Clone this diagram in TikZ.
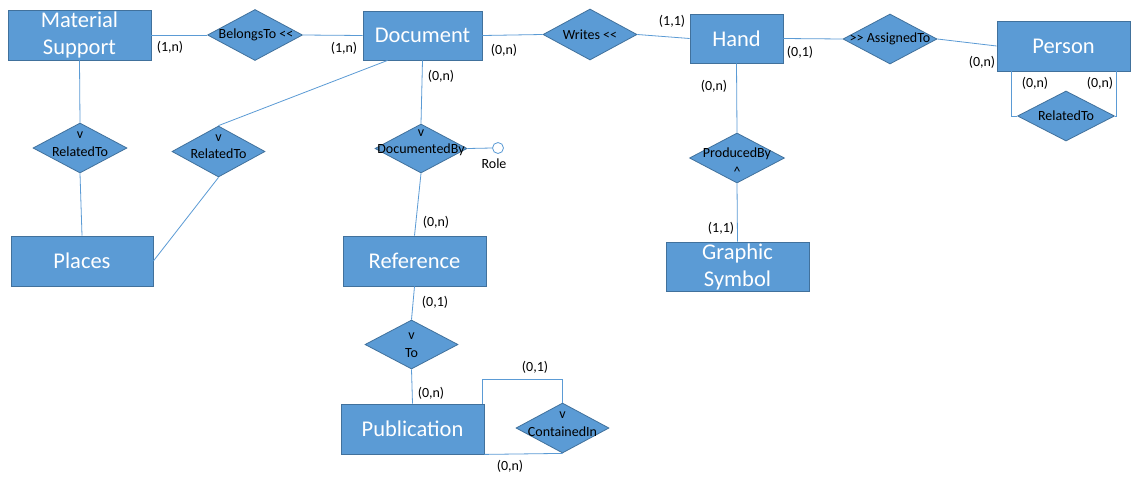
\documentclass[tikz,border=0pt]{standalone}
\usepackage{fontspec}
\newfontfamily\carl{Carlito}
\usetikzlibrary{shapes.geometric}
\definecolor{boxblue}{HTML}{5B9BD5}
\definecolor{boxedge}{HTML}{41719C}
\definecolor{linkblue}{HTML}{5B9BD5}
\begin{document}
\begin{tikzpicture}[x=1pt,y=-1pt,
  entity/.style 2 args={rectangle,draw=boxedge,fill=boxblue,line width=0.8pt,inner sep=0pt,
    minimum width=#1,minimum height=#2,text=white,align=center,
    font=\carl\fontsize{22.5}{27}\selectfont},
  rel/.style 2 args={diamond,draw=boxedge,fill=boxblue,line width=0.8pt,inner sep=0pt,
    minimum width=#1,minimum height=#2},
  reltext/.style={font=\carl\fontsize{14}{16}\selectfont,inner sep=0pt,text=black},
  card/.style={font=\carl\fontsize{14}{16}\selectfont,inner sep=0pt,text=black},
  link/.style={draw=linkblue,line width=0.8pt}]
\useasboundingbox[fill=white] (0,0) rectangle (1137,477);

% entities
\node[entity={143pt}{50pt}] (ms) at (79.5,35) {Material\\Support};
\node[entity={119pt}{49pt}] (doc) at (422.5,35.5) {Document};
\node[entity={93pt}{49pt}] (hand) at (736.5,38.5) {Hand};
\node[entity={133pt}{50pt}] (person) at (1063.5,46) {Person};
\node[entity={142pt}{50pt}] (places) at (82,261) {Places};
\node[entity={143pt}{50pt}] (ref) at (414.5,261) {Reference};
\node[entity={143pt}{49pt}] (gs) at (737.5,266.5) {Graphic\\Symbol};
\node[entity={143pt}{50pt}] (pub) at (412.5,429) {Publication};

% relationships
\node[rel={95pt}{51pt}] (bel) at (255,35) {};
\node[rel={94pt}{51pt}] (wri) at (590,34.5) {};
\node[rel={94pt}{50pt}] (asg) at (890,39) {};
\node[rel={97pt}{50pt}] (rel3) at (1066,116) {};
\node[rel={95pt}{50pt}] (prod) at (737,158) {};
\node[rel={92pt}{49pt}] (docby) at (421,148.5) {};
\node[rel={94pt}{50pt}] (rel1) at (80,148) {};
\node[rel={93pt}{51pt}] (rel2) at (218.5,151.5) {};
\node[rel={93pt}{49pt}] (to) at (411.5,344.5) {};
\node[rel={93pt}{50pt}] (cont) at (562.5,428) {};
\node[circle,draw=linkblue,fill=white,line width=0.8pt,minimum size=11pt,inner sep=0pt] (role) at (498,148) {};

% relationship texts
\node[reltext] (tbel) at (256,35) {BelongsTo <<};
\node[reltext] (twri) at (590,34.5) {Writes <<};
\node[reltext] (tasg) at (890,38.5) {>> AssignedTo};
\node[reltext] (trel3) at (1066,116) {RelatedTo};
\node[reltext] (tprod) at (737,154) {ProducedBy};
\node[reltext] (tprodv) at (737,172) {\textasciicircum};
\node[reltext] (tdocbyv) at (421,133) {v};
\node[reltext] (tdocby) at (421,150) {DocumentedBy};
\node[reltext] (trel1v) at (80,135) {v};
\node[reltext] (trel1) at (80,152) {RelatedTo};
\node[reltext] (trel2v) at (218.5,138) {v};
\node[reltext] (trel2) at (218.5,154) {RelatedTo};
\node[reltext] (ttov) at (411.5,336) {v};
\node[reltext] (tto) at (411.5,353) {To};
\node[reltext] (tcontv) at (562.5,415) {v};
\node[reltext] (tcont) at (562.5,432) {ContainedIn};
\node[reltext] (trole) at (494,164) {Role};

% connectors
\draw[link] (ms.east) -- (bel.west);
\draw[link] (bel.east) -- (doc.west);
\draw[link] (doc.east) -- (wri.west);
\draw[link] (wri.east) -- (hand.west);
\draw[link] (hand.east) -- (asg.west);
\draw[link] (asg.east) -- (person.west);
\draw[link] ([xshift=15pt]person.south west) |- (rel3.west);
\draw[link] ([xshift=-14pt]person.south east) |- (rel3.east);
\draw[link] (hand.south) -- (prod.north);
\draw[link] (prod.south) -- (gs.north);
\draw[link] (doc.south) -- (docby.north);
\draw[link] (docby.east) -- (role.west);
\draw[link] (docby.south) -- (ref.north);
\draw[link] (ref.south) -- (to.north);
\draw[link] (to.south) -- (pub.north);
\draw[link] ([xshift=-2pt]pub.north east) -- ++(0,-24) -| (cont.north);
\draw[link] (pub.south east) -- (cont.south);
\draw[link] (ms.south) -- (rel1.north);
\draw[link] (rel1.south) -- (places.north);
\draw[link] (rel2.north) -- ([xshift=25pt]doc.south west);
\draw[link] (rel2.south) -- (places.east);

% cardinalities
\node[card] (c1) at (170,47) {(1,n)};
\node[card] (c2) at (344,48) {(1,n)};
\node[card] (c3) at (504,50) {(0,n)};
\node[card] (c4) at (441,76) {(0,n)};
\node[card] (c5) at (672,21) {(1,1)};
\node[card] (c6) at (800,52) {(0,1)};
\node[card] (c7) at (982,62) {(0,n)};
\node[card] (c8) at (1035,83) {(0,n)};
\node[card] (c9) at (1100,83) {(0,n)};
\node[card] (c10) at (714,86) {(0,n)};
\node[card] (c11) at (721,228) {(1,1)};
\node[card] (c12) at (436,222) {(0,n)};
\node[card] (c13) at (435,302) {(0,1)};
\node[card] (c14) at (431,393) {(0,n)};
\node[card] (c15) at (535,367) {(0,1)};
\node[card] (c16) at (510,466) {(0,n)};
\end{tikzpicture}
\end{document}
